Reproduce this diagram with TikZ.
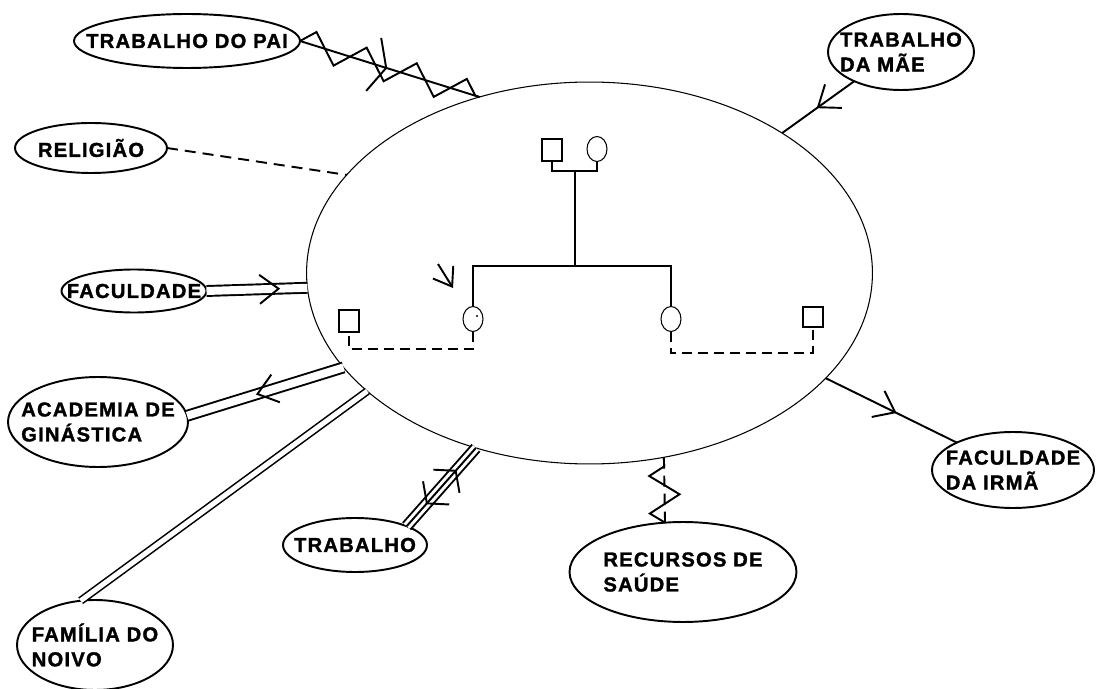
\documentclass[tikz,border=0pt]{standalone}
\usepackage{fontspec}
\newfontfamily\rotulofont[LetterSpace=6, BoldFeatures={FakeBold=1.5}]{Liberation Sans}
\usetikzlibrary{shapes.geometric,decorations.pathmorphing,decorations.markings,arrows.meta}

\tikzset{
  ponta/.tip={Straight Barb[length=3.8mm, width=5.8mm]},
  pontalarga/.tip={Straight Barb[length=2.8mm, width=7mm]},
  caixa/.style={ellipse, draw, line width=1.1pt, inner sep=0pt, outer sep=0pt},
  rotulo/.style={font=\rotulofont\bfseries\fontsize{11.5}{14.2}\selectfont, align=left, inner sep=0pt},
  homem/.style={rectangle, draw, line width=0.6pt, minimum width=0.4cm, minimum height=0.44cm, inner sep=0pt},
  mulher/.style={ellipse, draw, line width=0.6pt, minimum width=0.4cm, minimum height=0.5cm, inner sep=0pt},
  uniao/.style={line width=0.6pt},
  coabita/.style={line width=0.6pt, dash pattern=on 0.2cm off 0.12cm},
  ligacao/.style={line width=1.1pt},
  tenue/.style={line width=1.1pt, dash pattern=on 0.22cm off 0.14cm},
  forte/.style={line width=1.1pt, double, double distance=0.16cm},
  dupla/.style={line width=0.9pt, double, double distance=0.1cm},
  muitoforte/.style={forte, postaction={draw, line width=1.1pt}},
  estresse/.style={line width=1.1pt, postaction={draw, solid, decorate,
      decoration={zigzag, segment length=1.05cm, amplitude=0.27cm}}},
  setaida/.style={postaction={decorate}, decoration={markings,
      mark=at position #1 with {\arrow[line width=1.1pt]{ponta}}}},
  setavolta/.style={postaction={decorate}, decoration={markings,
      mark=at position #1 with {\arrowreversed[line width=1.1pt]{ponta}}}},
}

\begin{document}
\begin{tikzpicture}[x=0.02cm, y=-0.02cm]
\useasboundingbox (0,0) rectangle (1096,689);

% ecomapa: familia no centro
\node[ellipse, draw, line width=0.6pt, inner sep=0pt, outer sep=0pt,
      minimum width=11.32cm, minimum height=7.64cm] (fam) at (589.5,273) {};

% genograma
\node[homem] (paiG) at (552,150) {};
\node[mulher] (maeG) at (597,149) {};
\coordinate (casal) at (575,171);
\coordinate (irmaos) at (575,266);
\node[mulher] (filhaG) at (473,319) {};
\node[mulher] (irmaG) at (671,319) {};
\node[homem] (noivoG) at (349,321) {};
\node[homem, minimum height=0.4cm] (cunhadoG) at (813,317) {};

\draw[uniao] (paiG.south) |- (casal) -| (maeG.south);
\draw[uniao] (casal) -- (irmaos);
\draw[uniao] (filhaG.north) |- (irmaos) -| (irmaG.north);
\draw[coabita] (filhaG.south) -- ++(0,17) -| (noivoG.south);
\draw[coabita] (irmaG.south) -- ++(0,21) -| (cunhadoG.south);
\fill (filhaG.center) ++(4,-3) circle[radius=0.7pt];
\draw[line width=1.1pt, -{Straight Barb[length=3.4mm, width=4.8mm]}]
    ([shift={(-35,-55)}]filhaG.center) -- ([shift={(-20,-31)}]filhaG.center);

% sistemas externos
\node[caixa, minimum width=4.52cm, minimum height=1.08cm,
      label={[rotulo]center:TRABALHO DO PAI}] (pai) at (187,41) {};
\node[caixa, minimum width=2.92cm, minimum height=1.52cm,
      label={[rotulo]center:{TRABALHO\\DA MÃE}}] (mae) at (901,52) {};
\node[caixa, minimum width=3.04cm, minimum height=1.0cm,
      label={[rotulo]center:RELIGIÃO}] (rel) at (91,148) {};
\node[caixa, minimum width=2.9cm, minimum height=0.86cm,
      label={[rotulo]center:FACULDADE}] (fac) at (134,291) {};
\node[caixa, minimum width=3.6cm, minimum height=1.8cm,
      label={[rotulo]center:{ACADEMIA DE\\GINÁSTICA}}] (aca) at (98,422) {};
\node[caixa, minimum width=3.12cm, minimum height=1.8cm,
      label={[rotulo]center:{FAMÍLIA DO\\NOIVO}}] (noivo) at (95,645) {};
\node[caixa, minimum width=2.88cm, minimum height=1.08cm,
      label={[rotulo]center:TRABALHO}] (trab) at (355,545) {};
\node[caixa, minimum width=4.54cm, minimum height=2.0cm,
      label={[rotulo]center:{RECURSOS DE\\SAÚDE}}] (rec) at (683,572) {};
\node[caixa, minimum width=3.24cm, minimum height=1.52cm,
      label={[rotulo]center:{FACULDADE\\DA IRMÃ}}] (irma) at (1013,470) {};

% ligacoes
\draw[estresse] (pai.east) -- (fam.122) coordinate[pos=0.48] (corte);
\draw[ligacao] (corte) ++(-5,-30) -- (corte) -- ++(-20,23);
\draw[ligacao, setaida=0.52] (mae.212) -- (fam.36.5);
\draw[tenue] (rel.east) -- (fam.158);
\draw[forte, setaida=0.73] (fac.east) -- (fam.183);
\draw[forte, setavolta=0.44] (aca.4) -- (fam.201);
\draw[dupla] (noivo.108) -- (fam.208);
\draw[muitoforte] (trab.20) -- (fam.237);
\path[postaction={decorate}, decoration={markings,
      mark=at position 0.28 with {\arrowreversed[line width=1.1pt]{pontalarga}},
      mark=at position 0.72 with {\arrow[line width=1.1pt]{pontalarga}}}] (trab.20) -- (fam.237);
\draw[tenue, postaction={draw, solid, decorate,
      decoration={zigzag, segment length=0.75cm, amplitude=0.3cm}}] (rec.110) -- (fam.292);
\draw[ligacao, setavolta=0.46] (irma.154) -- (fam.336.4);
\end{tikzpicture}
\end{document}
